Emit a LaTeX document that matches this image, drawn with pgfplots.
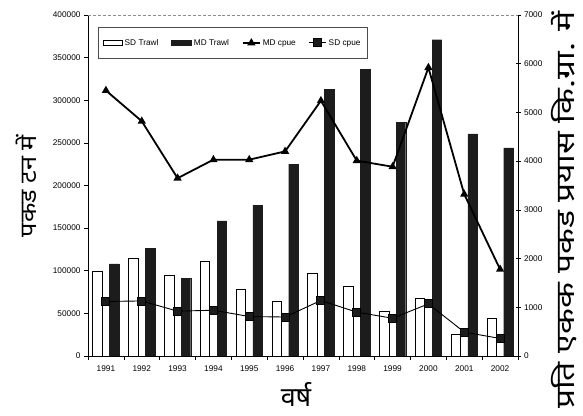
\documentclass[border=0pt]{standalone}
\usepackage{fontspec}
\setmainfont{Liberation Sans}
\newfontfamily\deva[Script=Devanagari]{Noto Sans}
\usepackage{pgfplots}
\pgfplotsset{compat=1.18}
\definecolor{barblack}{HTML}{1C1C1C}
\begin{document}
\begin{tikzpicture}
\useasboundingbox (-88bp,-60bp) rectangle (495bp,356bp);
\begin{axis}[
  at={(0,0)}, anchor=south west,
  scale only axis, width=430bp, height=341bp,
  xmin=-0.5, xmax=11.5, ymin=0, ymax=400000,
  axis x line*=bottom, axis y line*=left,
  axis line style={line width=0.8bp},
  xtick={-0.5,0.5,...,11.5}, xticklabels={},
  extra x ticks={0,1,...,11},
  extra x tick labels={1991,1992,1993,1994,1995,1996,1997,1998,1999,2000,2001,2002},
  extra x tick style={major tick length=0pt},
  ytick={0,50000,...,400000},
  scaled y ticks=false,
  tick align=outside, major tick length=4bp,
  tick style={line width=0.6bp, black},
  /pgf/number format/.cd, fixed, precision=0, 1000 sep={}, assume math mode=true,
  /pgfplots/.cd,
  tick label style={font=\fontsize{8.3}{9}\selectfont},
  xticklabel style={yshift=-6bp},
]
\addplot[ybar, bar width=9.5bp, bar shift=-8.4bp, fill=white, draw=black, line width=0.7bp]
coordinates {(0,99000) (1,114000) (2,95000) (3,111000) (4,78000) (5,64000) (6,97500) (7,82000) (8,52500) (9,68000) (10,25600) (11,44500)};
\addplot[ybar, bar width=9.5bp, bar shift=8.4bp, fill=barblack, draw=barblack]
coordinates {(0,108000) (1,126000) (2,91000) (3,158500) (4,177000) (5,225000) (6,312500) (7,336000) (8,274000) (9,371000) (10,260600) (11,244000)};
\end{axis}
\begin{axis}[
  at={(0,0)}, anchor=south west,
  scale only axis, width=430bp, height=341bp,
  xmin=-0.5, xmax=11.5, ymin=0, ymax=7000,
  axis x line=none, axis y line*=right,
  axis line style={line width=0.8bp},
  ytick={0,1000,...,7000},
  tick align=center, major tick length=5bp,
  tick style={line width=0.6bp, black},
  /pgf/number format/.cd, fixed, precision=0, 1000 sep={}, assume math mode=true,
  /pgfplots/.cd,
  tick label style={font=\fontsize{8.3}{9}\selectfont},
  legend columns=4,
  legend style={at={(0.023,0.965)}, anchor=north west, draw=black!70, line width=0.5bp,
    font=\fontsize{8.3}{9}\selectfont, inner xsep=5bp, inner ysep=10bp,
    /tikz/every even column/.append style={column sep=11bp}},
  legend cell align=left,
]
\addlegendimage{legend image code/.code={\draw[fill=white,draw=black,line width=0.6bp] (0bp,-2.5bp) rectangle (19bp,2.5bp);}}
\addlegendentry{SD Trawl}
\addlegendimage{legend image code/.code={\fill[barblack] (0bp,-2.5bp) rectangle (20bp,2.5bp);}}
\addlegendentry{MD Trawl}
\addplot[black, line width=1.8bp, mark=triangle*, mark size=3bp, mark options={solid}]
coordinates {(0,5450) (1,4820) (2,3650) (3,4030) (4,4030) (5,4200) (6,5240) (7,4010) (8,3885) (9,5920) (10,3320) (11,1780)};
\addlegendentry{MD cpue}
\addplot[black, line width=0.9bp, mark=square*, mark size=4bp, mark options={solid, fill=barblack}]
coordinates {(0,1120) (1,1130) (2,920) (3,940) (4,810) (5,800) (6,1140) (7,900) (8,775) (9,1070) (10,490) (11,360)};
\addlegendentry{SD cpue}
\end{axis}
\draw[black!45, line width=0.5bp, densely dashed] (0bp,341bp) -- (430bp,341bp);
\node[rotate=90, xscale=1.1, font=\deva\fontsize{23}{28}\selectfont] at (-62bp,170bp) {पकड टन में};
\node[rotate=90, xscale=1.3, font=\deva\fontsize{26}{30}\selectfont] at (476bp,146bp) {प्रति एकक पकड प्रयास कि.ग्रा. में};
\node[font=\deva\fontsize{27}{32}\selectfont] at (208bp,-38bp) {वर्ष};
\end{tikzpicture}
\end{document}
